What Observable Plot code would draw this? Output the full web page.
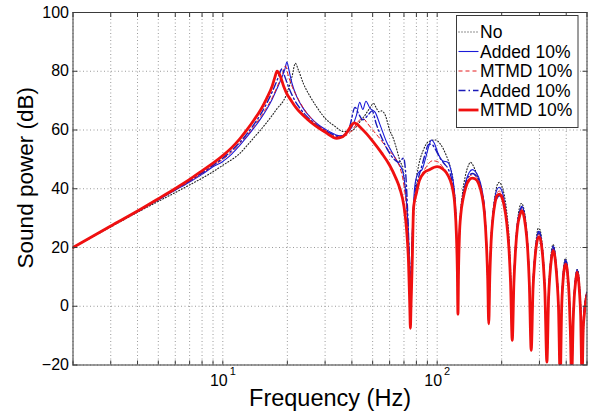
<!DOCTYPE html>
<html><head><meta charset="utf-8">
<script src="https://cdn.jsdelivr.net/npm/d3@7"></script>
<script src="https://cdn.jsdelivr.net/npm/@observablehq/plot@0.6"></script>
<style>body{margin:0;background:#fff} svg{display:block}</style>
</head><body><div id="chart"></div>
<script>
// ---- tick / grid values ----
const yTicks = [-20, 0, 20, 40, 60, 80, 100];
const xGrid = [2,3,4,5,6,7,8,9,10,20,30,40,50,60,70,80,90,100,200,300,400,500];
const xLabelTicks = [10, 100];
const xTickBase = ["10", "10"];
const xTickExp = ["1", "2"];
const legendLabels = ["No", "Added 10%", "MTMD 10%", "Added 10%", "MTMD 10%"];

// ---- series: "No" (black dotted) ----
const fNo = [2,3,4,5,6,7,8,9,10,11.3,12,13,14,15,16,17,18,19.2,20,21,21.8,22.5,23.8,25.5,27.5,30,33,36.6,40,42.3,44,46,48,50.5,52,53.5,55,57.3,60,62.6,65,67,69,71,73,74.5,75,75.5,77,79,82,86,91,98,104,110,115,119,122,124,125,126,128,131,135,140,143,147,152,158,163,167,170.5,174,177,181,186,191,195,200,206,212,217,220.5,224,228,232,237,242,247,252,258,264,269,274.6,280,285,290,296,301,307,313,318,325,331,336,341,347,352,357,363,368,375,381,386,391,396,401,406,412,418,425,431,436,442,450,456,462,468,476,484,492,500];
const dbNo = [20,27,32,35.7,38.7,41.3,43.6,45.8,48,50.5,52,54.8,57.5,60,62.5,65,67.5,70,72.8,78,82.7,80.5,75.7,71.5,67.7,64,61.5,59.5,59.8,61.5,63.2,65,67,69,67.5,66.2,66.5,65,60,56.9,53,49.5,47,40,28,10,2,10,28,40,48,53,56,56.6,55,51.5,47.5,42,32,15,3,15,30,38,44,48,49,48,45.5,42,37,30,18,-4,17,30,37.5,41.5,42.2,41,37.5,31,22,10,-10,10,21,29,33.5,35,34,30,22,10,-13,8,17,23,26.5,26.2,23,16,7,-17,5,13,18.5,21,20,16.5,10,2,-22,2,10,14.5,16.3,15.5,12,5,-6,-24,-3,5,10,12.5,11.5,7,-1,-24,-3,3,5];

// shared high-frequency grid for the three middle series
const fHigh = [125,125.8,127,129,132,136,141,146,150,156,162,166,169.5,172,174,176,178.5,182,186,191,195,200,205,211,216,220,224,228,232,237,243,248,253,258,264,269,274.6,280,285,290,297,301,307,313,318,325,331,336,341,347,352,357,363,368,375,381,386,391,397,402,407,413,418,424,431,436,442,449,455,461,467,474,480,486,492,500];

// ---- "Added 10%" (blue solid) ----
const fAddLow = [2,3,4,5,6,7,8,9,10,10.3,11,12,13,14,15,16,17,18,19,19.5,19.9,20.4,21,22.2,23.5,25.6,28,31,35.3,38,40,42,43.5,45,46.5,48.5,51.4,54,58,62,66,69,71,73,74.5,75,75.5,77,79,81.9,85,88,91,94,97,101,106,112,117,120,122.5,124.2];
const dbAddLow = [20,27.2,32.2,36.2,39.5,42.3,44.9,47.5,49.3,50,51.8,54.8,57.8,60.8,63.8,67,70.5,74.5,78.5,80.8,83.1,80,76,71.1,67.8,64.3,61.7,59.7,58,59,61,65,69.4,67,69.8,67.5,66,62,56,52,48.5,46,40,28,10,1,10,30,42,45.6,46.5,50,54,56.6,55.5,52,49.5,49,45,40,30,14];
const dbAddHigh = [-1,13,25,32.5,38,42.5,45.5,46.5,46,44,39.5,34,23,11,-5,11,23,31.5,37,40,40.5,39.5,36.5,30,21.5,9.5,-11,9.5,20.5,28.5,32.5,34,32.8,29,21.5,9.5,-14,7.5,16.5,22,25.5,25.3,22,15.5,6,-18,4.5,12.5,17.5,20.5,19.5,16,9.5,1.5,-23,1.5,9.5,14,15.8,15,11.5,4.5,-6,-24,-3.5,4.5,9.5,12.5,11,6.5,-1.5,-24,-6,0,2.5,5];

// ---- "MTMD 10%" (red dashed, thin) ----
const fMtLow = [2,3,4,5,6,7,8,9,10,11,12,13,14,15,16,17,18,19,19.6,20.2,21,22.5,24,26,28,31,34,37,40,42,44,45.4,47,50,54.3,58,62.6,67,70,72.5,74.3,75,75.7,77.5,80,84,89,95,100,106,112,117,120,122.5,124.2];
const dbMtLow = [20,27.3,32.3,36.3,39.6,42.5,45.2,47.8,50,52.5,55.4,58.3,61.3,64.4,67.6,71,75,79.2,81.8,78.5,75,70.5,67,63.8,61.5,59.3,57.8,58,59.8,62,63.7,63.8,62.5,60,56.9,54,51.2,47.3,41,30,12,-3,12,30,39,44,47.5,49.5,49.3,47.5,45,41,36,27,13];
const dbMtHigh = [-2,12.5,24.5,32,37,41.3,44,44.8,44.5,42.8,38.5,33,22.5,10.5,-5.5,10.5,22.5,30.5,35.8,38.8,39.2,38.2,35.5,29.2,20.8,8.8,-11.3,8.8,19.8,27.8,31.8,33.2,32,28.2,20.8,8.8,-14.5,6.8,15.8,21.2,24.5,24.3,21.2,14.8,5.5,-18.5,3.8,11.8,16.8,19.6,18.7,15.2,8.8,0.8,-24,0.8,8.8,13.2,15,14.2,10.8,3.8,-7,-25,-4.2,3.8,8.8,12,10.5,5.8,-2.2,-25,-7,-1,2,4.5];

// ---- "Added 10%" (blue dash-dot) ----
const fAdd2Low = [2,3,4,5,6,7,8,9,10,11,12,13,14,15,16,17,18,18.9,19.5,20.3,21.5,23,25,27,30,33,35,37,39,41.4,43,45,47.5,49.7,52,55,59,63,66,69.7,71.5,73,74.5,75,75.5,77,79,82,85,88,91,94,98,103,108,113,117,120,122.5,124.2];
const dbAdd2Low = [20,27.3,32.3,36.4,39.8,42.7,45.4,48,50.4,53,55.8,58.8,62,65.3,69,73,77.3,80.8,78,74.5,70.5,67.2,64.2,62,59.8,58.3,57.8,58.3,61,67.7,65.5,63.5,65,66.5,62,57.5,53,50,49,50.4,44,30,10,0,10,28,38,44,48,52,55,55.2,53.5,50.5,48.5,46.5,43,38,28,13];
const dbAdd2High = [-1.5,12.5,24.5,32,37.5,42,44.5,45.2,44.8,43,38.8,33.5,22.8,10.8,-5.2,10.8,22.8,30.5,35,37,37.6,37,35,29.5,21,9,-11,9,20,28,32,33.6,32.5,28.6,21,9,-14,7,16,21.5,25,24.8,21.5,15,5.8,-18,4,12,17,20,19,15.5,9,1,-23,1,9,13.5,15.3,14.6,11,4,-6.5,-25,-4,4,9,12,10.7,6,-2,-25,-6.5,-0.5,2,4.5];

// ---- "MTMD 10%" (red solid, thick) ----
const fMt2 = [2,3,4,5,6,7,8,9,10,11,12,13,14,15,16,17,17.5,17.9,18.5,19.2,20,20.6,22,24.7,27,30,34,36,38,40,41,42,44,47,50,55,60,64,67,70,72,73.5,74.5,75,75.5,76.5,77.6,80,82.5,87,91.4,100,106,110,118,121,123,124.2,125,125.8,127,129,132,136,141,146,150,156,162,166,169.5,172,174,176,178.5,182,186,191,195,200,205,211,216,220,224,228,232,237,243,248,253,258,264,269,274.6,280,285,290,297,301,307,313,318,325,331,336,341,347,352,357,363,368,375,381,386,391,397,402,407,413,418,424,431,436,442,449,455,461,467,474,480,486,492,500];
const dbMt2 = [20,27.3,32.4,36.6,40.1,43.2,46.1,48.7,51.3,54,57,60.2,63.5,66.8,70.7,75,78,80,78.5,75,72,70.6,67.5,63.8,61.5,59.3,57.2,57.6,59.3,61.8,62.4,62.1,60.8,58.6,56.2,52.2,48,43.8,40,34,26,15,0,-7.5,0,15,33.6,38.5,42.7,45.5,46.4,47.5,46.8,45.6,40,34,24,12,-2.7,12,24,31.5,36.5,40.5,43,43.6,43.4,41.8,37.5,32,22,10,-6,10,22,30,35,37.8,38.2,37.2,34.5,28.5,20,8,-11.6,8,19,27,31,32.5,31.2,27.5,20,8,-15,6,15,20.5,23.6,23.4,20.5,14,5,-19,3,11,16,18.9,18,14.5,8,0,-25,0,8,12.5,14.3,13.5,10,3,-8,-25,-5,3,8,11.5,10,5,-3,-25,-8,-2.7,1,4];

// ---- styles ----
const styles = [
  {stroke: "#222222", width: 1.1, dash: "1,2"},
  {stroke: "#1a1ad8", width: 1.1, dash: null},
  {stroke: "#e41a1c", width: 1.0, dash: "4,3"},
  {stroke: "#1a1ab8", width: 1.4, dash: "7,3,1.5,3"},
  {stroke: "#f01010", width: 2.8, dash: null}
];

const seriesData = [
  [fNo, dbNo],
  [fAddLow.concat(fHigh), dbAddLow.concat(dbAddHigh)],
  [fMtLow.concat(fHigh), dbMtLow.concat(dbMtHigh)],
  [fAdd2Low.concat(fHigh), dbAdd2Low.concat(dbAdd2High)],
  [fMt2, dbMt2]
];

const lineMarks = seriesData.map(([fs, ds], k) => {
  const rows = fs.map((f, i) => ({f, db: ds[i]})).filter(d => d.db !== undefined);
  return Plot.line(rows, {
    x: "f", y: "db", curve: "monotone-x", clip: true,
    stroke: styles[k].stroke, strokeWidth: styles[k].width,
    strokeDasharray: styles[k].dash, strokeLinejoin: "round"
  });
});

const font = "'Liberation Sans', Arial, sans-serif";

const chart = Plot.plot({
  width: 590, height: 420,
  marginLeft: 72.5, marginRight: 3.5, marginTop: 12, marginBottom: 55.5,
  style: {fontFamily: font, background: "#fff", color: "#000"},
  x: {type: "log", domain: [2, 500]},
  y: {domain: [-20, 100]},
  marks: [
    Plot.gridX(xGrid, {stroke: "#9a9a9a", strokeOpacity: 1, strokeDasharray: "1,2.5"}),
    Plot.gridY(yTicks, {stroke: "#9a9a9a", strokeOpacity: 1, strokeDasharray: "1,2.5"}),
    ...lineMarks,
    Plot.frame({stroke: "#3a3a3a", strokeWidth: 1}),
    Plot.axisY({ticks: yTicks, anchor: "left", tickSize: -5, tickPadding: 9, fontSize: 16, label: null, stroke: "#3a3a3a"}),
    Plot.axisY({ticks: yTicks, anchor: "right", tickSize: -5, tickFormat: () => "", label: null, stroke: "#3a3a3a"}),
    Plot.axisX({ticks: xGrid, anchor: "bottom", tickSize: -4, tickFormat: () => "", label: null, stroke: "#3a3a3a"}),
    Plot.axisX({ticks: xGrid, anchor: "top", tickSize: -4, tickFormat: () => "", label: null, stroke: "#3a3a3a"}),
    Plot.text(xLabelTicks, {x: d => d, frameAnchor: "bottom", dy: 21, dx: -4, text: (d, i) => xTickBase[i], fontSize: 16}),
    Plot.text(xLabelTicks, {x: d => d, frameAnchor: "bottom", dy: 10, dx: 10, text: (d, i) => xTickExp[i], fontSize: 11}),
    Plot.text(["Frequency (Hz)"], {frameAnchor: "bottom", dy: 41, fontSize: 23.5, textAnchor: "middle"}),
    Plot.text(["Sound power (dB)"], {frameAnchor: "left", dx: -47, dy: -11, rotate: -90, fontSize: 22.5, textAnchor: "middle"})
  ]
});

document.getElementById("chart").appendChild(chart);

// ---- legend (inside the axes, top right) ----
const svg = d3.select(chart);
const lg = svg.append("g").attr("font-family", font).attr("text-anchor", "start");
lg.append("rect").attr("x", 456.5).attr("y", 15.5).attr("width", 121.5).attr("height", 112)
  .attr("fill", "#fff").attr("stroke", "#3a3a3a").attr("stroke-width", 1);
legendLabels.forEach((lab, i) => {
  const y = 32 + i * 19.5;
  lg.append("line").attr("x1", 458.5).attr("x2", 478.5).attr("y1", y).attr("y2", y)
    .attr("stroke", styles[i].stroke).attr("stroke-width", styles[i].width)
    .attr("stroke-dasharray", styles[i].dash);
  lg.append("text").attr("x", 480).attr("y", y).attr("dy", "0.35em")
    .attr("text-anchor", "start")
    .attr("font-size", 17.5).attr("fill", "#000").text(lab);
});
</script>
</body></html>
